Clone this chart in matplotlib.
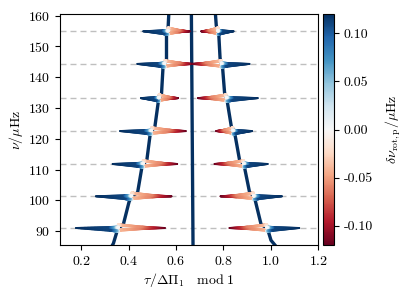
import numpy as np
import matplotlib
matplotlib.use("Agg")
import matplotlib.pyplot as plt
from matplotlib.collections import LineCollection
from matplotlib.colors import Normalize

plt.rcParams['font.family'] = 'serif'
plt.rcParams['font.serif'] = ['cmr10', 'DejaVu Serif']
plt.rcParams['mathtext.fontset'] = 'cm'
plt.rcParams['axes.formatter.use_mathtext'] = True
plt.rcParams['font.size'] = 10

# p-mode frequencies (dashed lines), muHz
p_nu = [91.0, 101.3, 111.8, 122.5, 133.2, 144.3, 154.9]

# m = -1 branch (left): backbone curve and spikes at each p mode
left_nu = [84.5, 86.0, 89.6, 91.0, 92.2, 99.5, 101.3, 102.5, 110.2, 111.8, 113.0, 120.8,
           122.5, 123.9, 131.8, 133.2, 134.6, 142.8, 144.3, 145.8, 153.6, 154.9, 156.4, 161.0]
left_x = [0.325, 0.336, 0.350, 0.357, 0.378, 0.402, 0.413, 0.438, 0.455, 0.462, 0.477, 0.490,
          0.497, 0.511, 0.525, 0.529, 0.539, 0.545, 0.553, 0.560, 0.560, 0.567, 0.567, 0.570]
left_junc = [0.357, 0.413, 0.462, 0.497, 0.529, 0.553, 0.567]
left_blue_tip = [0.178, 0.262, 0.333, 0.364, 0.452, 0.437, 0.462]
left_red_tip = [0.553, 0.581, 0.605, 0.641, 0.609, 0.672, 0.658]

# m = +1 branch (right)
right_nu = [84.5, 87.0, 89.8, 91.0, 92.2, 99.8, 101.3, 102.8, 110.4, 111.8, 113.2, 120.9,
            122.5, 124.2, 131.8, 133.2, 135.0, 142.8, 144.3, 146.2, 153.4, 154.9, 156.8, 161.0]
right_x = [1.028, 1.001, 0.990, 0.983, 0.959, 0.935, 0.927, 0.910, 0.890, 0.885, 0.868, 0.850,
           0.840, 0.833, 0.817, 0.812, 0.805, 0.797, 0.791, 0.786, 0.781, 0.777, 0.770, 0.766]
right_junc = [0.983, 0.927, 0.885, 0.840, 0.812, 0.791, 0.777]
right_blue_tip = [1.120, 1.047, 0.987, 0.921, 0.945, 0.910, 0.843]
right_red_tip = [0.826, 0.788, 0.763, 0.770, 0.693, 0.668, 0.707]

# m = 0 branch (centre)
centre_nu = [84.5, 161.0]
centre_x = [0.672, 0.665]

# colour value along a spike arm (fraction of arm length -> delta nu_rot,p)
blue_profile = ([0.0, 0.06, 0.2, 1.0], [0.0, 0.06, 0.11, 0.12])
red_profile = ([0.0, 0.05, 0.5, 0.7, 1.0], [-0.02, -0.04, -0.06, -0.09, -0.12])

cmap = plt.get_cmap('RdBu')
norm = Normalize(vmin=-0.12, vmax=0.12)


def gradient_path(ax, xs, ys, cs, lws, n=24):
    segs, vals, widths = [], [], []
    for i in range(len(xs) - 1):
        t = np.linspace(0, 1, n + 1)
        px = xs[i] + (xs[i + 1] - xs[i]) * t
        py = ys[i] + (ys[i + 1] - ys[i]) * t
        pc = cs[i] + (cs[i + 1] - cs[i]) * t
        pw = lws[i] + (lws[i + 1] - lws[i]) * t
        for k in range(n):
            segs.append([(px[k], py[k]), (px[k + 1], py[k + 1])])
            vals.append(0.5 * (pc[k] + pc[k + 1]))
            widths.append(0.5 * (pw[k] + pw[k + 1]))
    lc = LineCollection(segs, cmap=cmap, norm=norm, linewidths=widths,
                        capstyle='round', joinstyle='round', zorder=3)
    lc.set_array(np.array(vals))
    ax.add_collection(lc)


def arm(ax, xj, xt, nu, profile, dlo, dhi):
    fr, cv = profile
    # out along one edge, back along the other -> wedge
    xs_out = [xj + (xt - xj) * f for f in fr]
    ys_out = [nu + dlo * (1 - f) ** 1.5 for f in fr]
    xs_back = [xj + (xt - xj) * f for f in fr[::-1]]
    ys_back = [nu + dhi * (1 - f) ** 1.5 for f in fr[::-1]]
    w = [2.4 - 1.0 * f for f in fr]
    gradient_path(ax, xs_out + xs_back, ys_out + ys_back,
                  list(cv) + list(cv[::-1]), w + w[::-1])


fig = plt.figure(figsize=(4.1, 2.96), dpi=100)
ax = fig.add_axes([0.146, 0.172, 0.630, 0.781])
cax = fig.add_axes([0.787, 0.172, 0.028, 0.781])

for nu in p_nu:
    ax.axhline(nu, color='0.75', ls=(0, (4.3, 2.9)), lw=1.0, zorder=1)

dark = cmap(norm(0.12))
ax.plot(left_x, left_nu, color=dark, lw=2.4, zorder=2, solid_capstyle='round')
ax.plot(right_x, right_nu, color=dark, lw=2.4, zorder=2, solid_capstyle='round')
ax.plot(centre_x, centre_nu, color=dark, lw=2.4, zorder=2)

for i, nu in enumerate(p_nu):
    arm(ax, left_junc[i], left_red_tip[i], nu, red_profile, -0.7, 1.0)
    arm(ax, right_junc[i], right_red_tip[i], nu, red_profile, -0.7, 1.0)
    arm(ax, left_junc[i], left_blue_tip[i], nu, blue_profile, -1.0, 0.2)
    arm(ax, right_junc[i], right_blue_tip[i], nu, blue_profile, -1.0, 0.2)

ax.set_xlim(0.11, 1.2)
ax.set_ylim(85.45, 160.55)
ax.set_xticks([0.2, 0.4, 0.6, 0.8, 1.0, 1.2])
ax.set_yticks([90, 100, 110, 120, 130, 140, 150, 160])
ax.set_xlabel(r'$\tau/\Delta\Pi_1\quad\mathrm{mod}\ 1$', labelpad=2)
ax.set_ylabel(r'$\nu/\mu\mathrm{Hz}$', labelpad=2)

sm = plt.cm.ScalarMappable(cmap=cmap, norm=norm)
cb = fig.colorbar(sm, cax=cax, ticks=[-0.10, -0.05, 0.0, 0.05, 0.10], format='%.2f')
cb.set_label(r'$\delta\nu_{\mathrm{rot,p}}/\mu\mathrm{Hz}$', labelpad=8)

fig.savefig('out.png', dpi=100)
